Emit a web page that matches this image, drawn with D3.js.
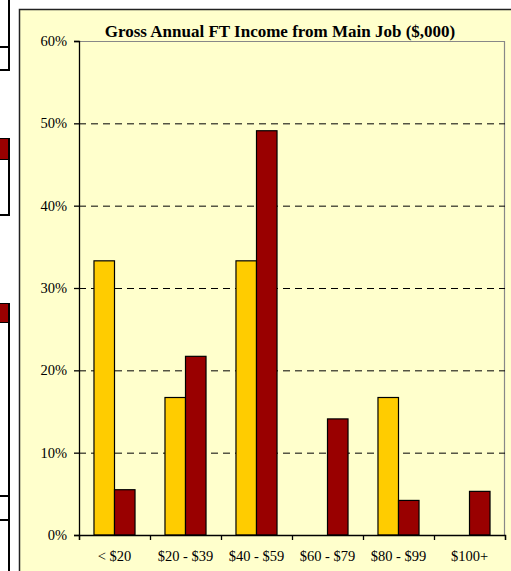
<!DOCTYPE html>
<html>
<head>
<meta charset="utf-8">
<script src="https://cdn.jsdelivr.net/npm/d3@7"></script>
<style>
  body { margin: 0; background: #fff; }
  svg { display: block; font-family: "Liberation Serif", "Times New Roman", serif; }
  .tick text { font-family: "Liberation Serif", "Times New Roman", serif; font-size: 14.5px; fill: #000; }
</style>
</head>
<body>
<svg id="chart" width="511" height="571"></svg>
<script>
const categories = ["< $20", "$20 - $39", "$40 - $59", "$60 - $79", "$80 - $99", "$100+"];
const seriesNames = ["a", "b"];
const seriesA = [33.3, 16.7, 33.3, 0, 16.7, 0];
const seriesB = [5.5, 21.7, 49.1, 14.1, 4.2, 5.3];
const yTicks = [0, 10, 20, 30, 40, 50, 60];
const title = "Gross Annual FT Income from Main Job ($,000)";

const svg = d3.select("#chart");
const colors = { a: "#FFCC00", b: "#990000" };

// bits of neighbouring charts cut off at the left edge
const edge = svg.append("g").attr("stroke", "#000").attr("stroke-width", 2).attr("fill", "none");
edge.append("path").attr("d", "M9,0V70H0M0,47H9");
svg.append("rect").attr("x", 0).attr("y", 139).attr("width", 8).attr("height", 20).attr("fill", "#990000");
edge.append("path").attr("d", "M0,139H9V215H0M0,159H9");
svg.append("rect").attr("x", 0).attr("y", 304).attr("width", 8).attr("height", 18).attr("fill", "#990000");
edge.append("path").attr("d", "M0,304H9V571M0,322H9M0,496H9M0,520H9");

// chart frame
svg.append("rect")
  .attr("x", 19.5).attr("y", 9.5).attr("width", 520).attr("height", 580)
  .attr("fill", "#FFFFCC").attr("stroke", "#222").attr("stroke-width", 1.5);

const margin = { top: 41, right: 6, bottom: 36, left: 79 };
const width = 511;
const height = 571;
const innerWidth = width - margin.left - margin.right;
const innerHeight = height - margin.top - margin.bottom;

const g = svg.append("g").attr("transform", `translate(${margin.left}, ${margin.top})`);

// scales
const x0 = d3.scaleBand().domain(categories).range([0, innerWidth]).padding(0);
const x1 = d3.scaleBand().domain(seriesNames).range([0, x0.bandwidth()]).paddingInner(0).paddingOuter(0.73);
const xb = d3.scaleLinear().domain([0, categories.length]).range([0, innerWidth]);
const y = d3.scaleLinear().domain([0, 60]).range([innerHeight, 0]);

// plot border (top/right grey)
g.append("path")
  .attr("d", `M0,0.5H${innerWidth - 0.5}V${innerHeight}`)
  .attr("fill", "none").attr("stroke", "#888").attr("stroke-width", 1.2);

// gridlines
g.append("g")
  .attr("class", "grid")
  .call(d3.axisLeft(y).tickValues(yTicks.filter(d => d > 0 && d < 60)).tickSize(-innerWidth).tickFormat(""))
  .call(s => s.select(".domain").remove())
  .call(s => s.selectAll("text").remove())
  .call(s => s.selectAll("line").attr("stroke", "#000").attr("stroke-dasharray", "7,5"));

// bars
const rows = categories.map((c, i) => ({ cat: c, a: seriesA[i], b: seriesB[i] }));
g.append("g")
  .selectAll("g")
  .data(rows)
  .join("g")
  .attr("transform", d => `translate(${x0(d.cat)},0)`)
  .selectAll("rect")
  .data(d => seriesNames.map(k => ({ key: k, value: d[k] })).filter(d => d.value > 0))
  .join("rect")
  .attr("x", d => x1(d.key))
  .attr("y", d => y(d.value))
  .attr("width", x1.bandwidth())
  .attr("height", d => innerHeight - y(d.value))
  .attr("fill", d => colors[d.key])
  .attr("stroke", "#000")
  .attr("stroke-width", 1.2);

// y axis
g.append("g")
  .call(d3.axisLeft(y).tickValues(yTicks).tickSize(5).tickPadding(7).tickFormat(d => d + "%"))
  .call(s => s.selectAll("line,path").attr("stroke", "#000").attr("stroke-width", 1.3));

// x axis: boundary ticks then category labels
g.append("g")
  .attr("transform", `translate(0, ${innerHeight})`)
  .call(d3.axisBottom(xb).ticks(categories.length).tickSize(5).tickFormat(""))
  .call(s => s.selectAll("text").remove())
  .call(s => s.selectAll("line,path").attr("stroke", "#000").attr("stroke-width", 1.3));

g.append("g")
  .attr("transform", `translate(0, ${innerHeight})`)
  .call(d3.axisBottom(x0).tickSize(0).tickPadding(16))
  .call(s => s.select(".domain").remove());

// title
svg.append("text")
  .attr("x", 280)
  .attr("y", 37)
  .attr("text-anchor", "middle")
  .style("font-size", "17px")
  .style("font-weight", "bold")
  .text(title);
</script>
</body>
</html>
